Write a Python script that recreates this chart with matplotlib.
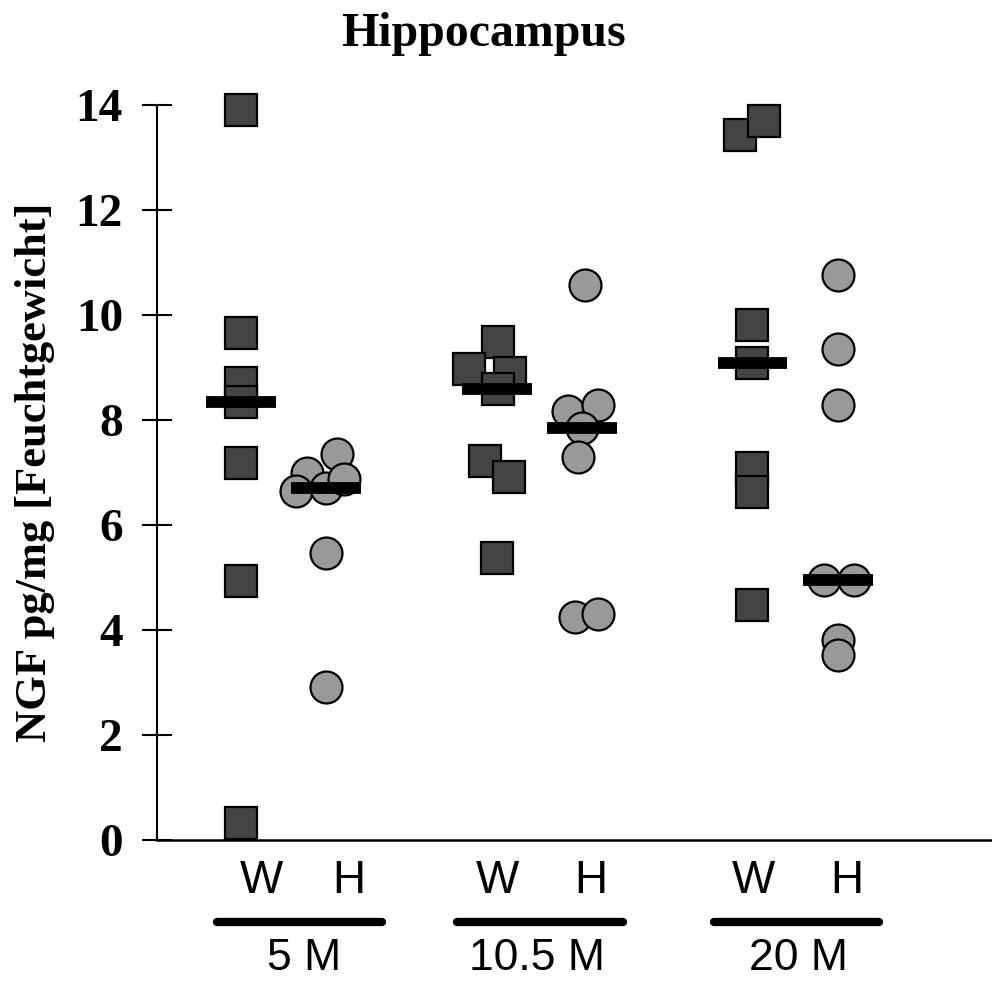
import matplotlib
matplotlib.use("Agg")
import matplotlib.pyplot as plt
import matplotlib.transforms as mtransforms
import numpy as np

# ---- data ----
groups = ["5 M", "10.5 M", "20 M"]
conditions = ["W", "H"]
w_values = [
    [13.9, 9.66, 8.7, 8.35, 7.18, 4.93, 0.32],
    [9.49, 8.97, 8.9, 8.59, 7.22, 6.91, 5.37],
    [13.43, 13.70, 9.81, 9.09, 7.09, 6.63, 4.48],
]
h_values = [
    [7.35, 7.0, 6.65, 6.7, 6.88, 5.47, 2.91],
    [10.57, 8.17, 8.29, 7.85, 7.3, 4.25, 4.3],
    [10.76, 9.35, 8.29, 4.95, 4.95, 3.81, 3.52],
]
yticks = [0, 2, 4, 6, 8, 10, 12, 14]

# ---- layout (horizontal jitter offsets and label positions, display only) ----
w_jitter = [
    [0, 0, 0, 0, 0, 0, 0],
    [0.02, -0.33, 0.15, 0.01, -0.14, 0.14, 0.0],
    [-0.15, 0.13, 0, 0, 0, 0, 0],
]
h_jitter = [
    [0.12, -0.23, -0.35, 0.0, 0.21, 0.0, 0.0],
    [0.03, -0.16, 0.19, 0.0, -0.05, -0.08, 0.19],
    [0, 0, 0, -0.16, 0.19, 0, 0],
]
group_pos = [0, 3, 6]
w_label_x = [0.235, 3.005, 6.01]
h_label_x = [1.27, 4.10, 7.11]
line_x = [(-0.28, 1.655), (2.535, 4.48), (5.55, 7.48)]
group_label_x = [0.74, 3.47, 6.54]

fig = plt.figure(figsize=(9.92, 9.81), dpi=100)
ax = fig.add_axes([157 / 992, 141 / 981, 835 / 992, 735 / 981])

for gi, gp in enumerate(group_pos):
    wx = np.array(w_jitter[gi]) + gp
    hx = np.array(h_jitter[gi]) + gp + 1
    ax.plot(wx, w_values[gi], linestyle="none", marker="s", ms=23.5,
            mfc="#444444", mec="black", mew=1.6, clip_on=False, zorder=3)
    ax.plot(hx, h_values[gi], linestyle="none", marker="o", ms=23,
            mfc="#999999", mec="black", mew=1.6, clip_on=False, zorder=3)
    ax.hlines(np.median(w_values[gi]), gp - 0.41, gp + 0.41, colors="black",
              lw=8.5, zorder=4)
    ax.hlines(np.median(h_values[gi]), gp + 1 - 0.41, gp + 1 + 0.41,
              colors="black", lw=8.5, zorder=4)

ax.set_xlim(-0.986, 8.81)
ax.set_ylim(0, 14)
ax.set_yticks(yticks)
ax.set_yticklabels([str(t) for t in yticks], fontfamily="Liberation Serif",
                   fontweight="bold", fontsize=34)
ax.tick_params(axis="y", direction="inout", length=21, width=1.5, pad=14)
ax.set_xticks([])
for s in ["top", "right"]:
    ax.spines[s].set_visible(False)
ax.spines["left"].set_linewidth(1.5)
ax.spines["bottom"].set_linewidth(1.8)

fig.text(35 / 992, 1 - 472 / 981, "NGF pg/mg [Feuchtgewicht]", rotation=90,
         ha="center", va="center", fontfamily="Liberation Serif",
         fontweight="bold", fontsize=32)
fig.text(483 / 992, 1 - 34 / 981, "Hippocampus", ha="center", va="center",
         fontfamily="Liberation Serif", fontweight="bold", fontsize=34.5)

trans = mtransforms.blended_transform_factory(ax.transData, fig.transFigure)
for gi in range(len(groups)):
    ax.text(w_label_x[gi], 1 - 881 / 981, conditions[0], transform=trans,
            ha="center", va="center", fontfamily="Liberation Sans", fontsize=33)
    ax.text(h_label_x[gi], 1 - 881 / 981, conditions[1], transform=trans,
            ha="center", va="center", fontfamily="Liberation Sans", fontsize=33)
    ax.plot(line_x[gi], [1 - 922 / 981] * 2, transform=trans,
            color="black", lw=6, solid_capstyle="round", clip_on=False)
    ax.text(group_label_x[gi], 1 - 958 / 981, groups[gi], transform=trans,
            ha="center", va="center", fontfamily="Liberation Sans", fontsize=32)

fig.savefig("out.png", dpi=100)
